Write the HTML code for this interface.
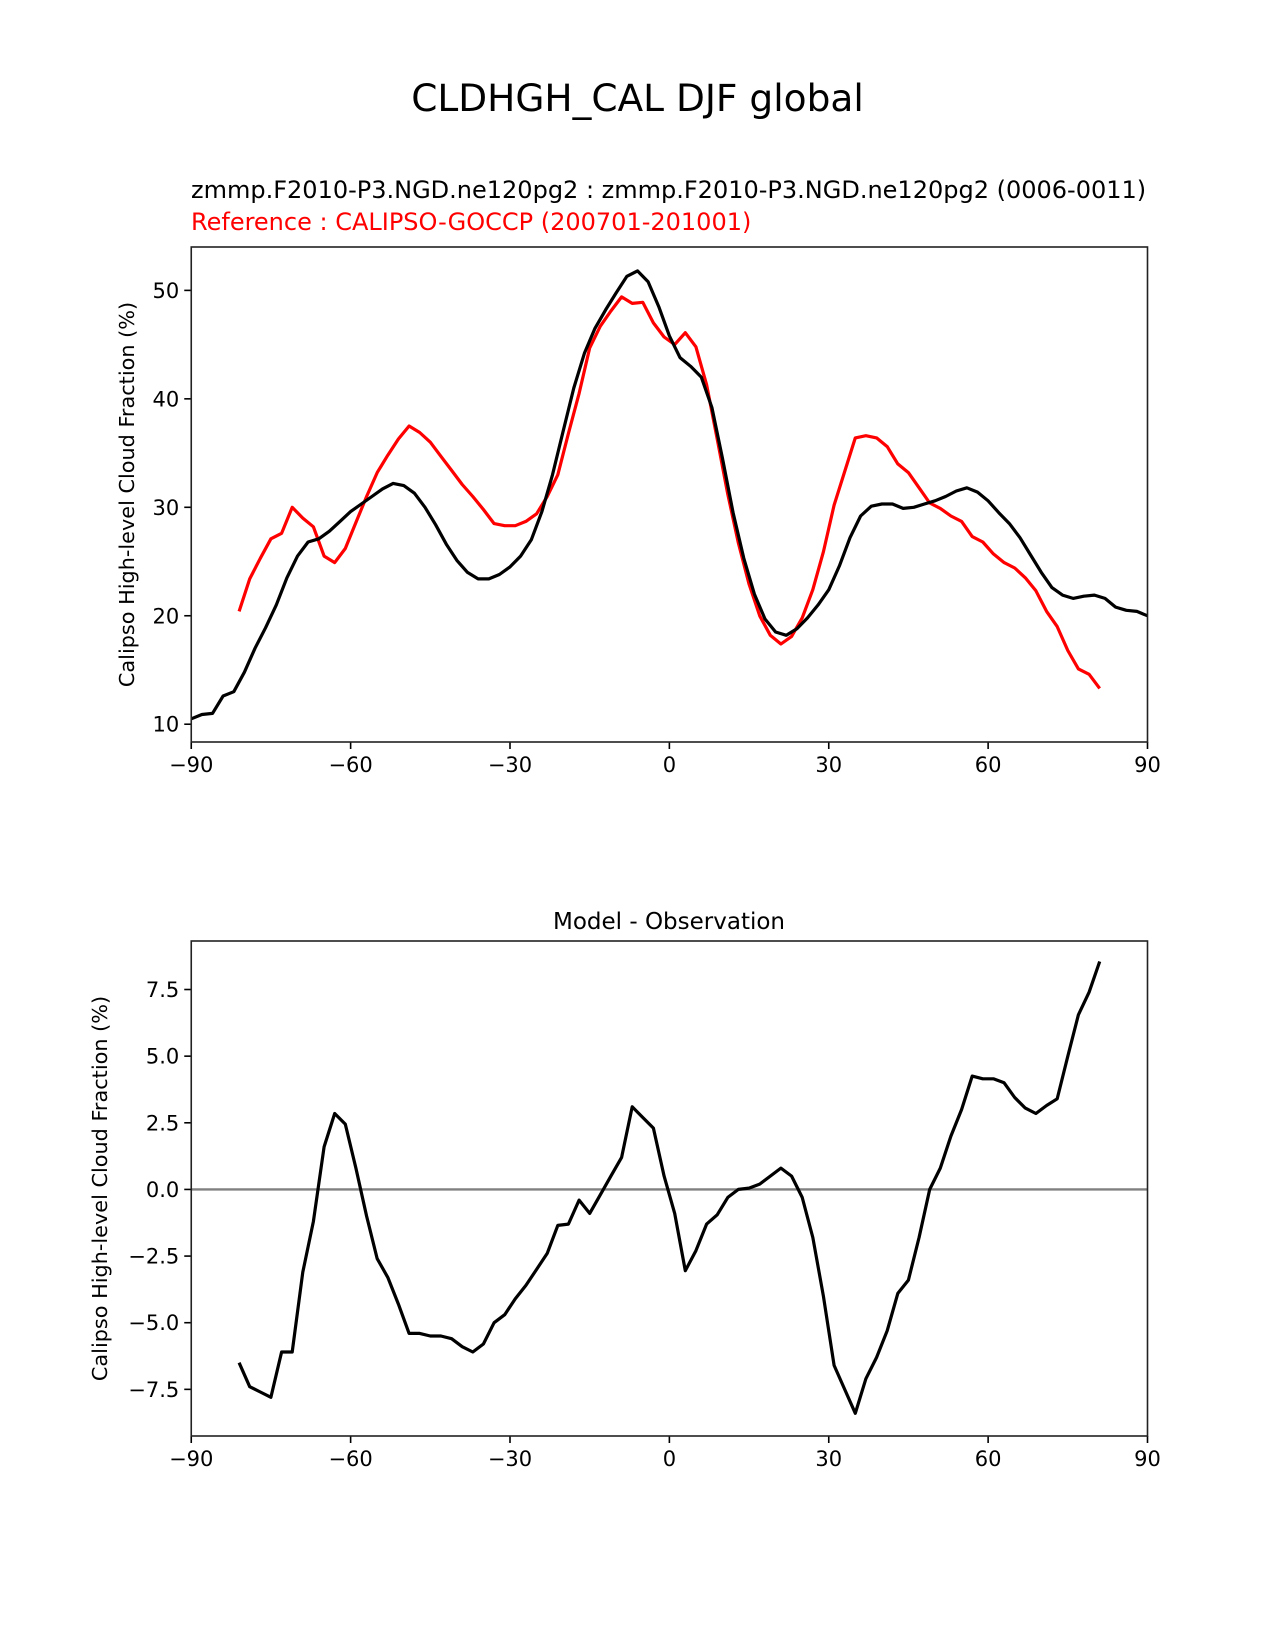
<!DOCTYPE html>
<html><head><meta charset="utf-8"><style>
body{margin:0;background:#fff}
svg{display:block;font-family:"DejaVu Sans","Liberation Sans",sans-serif}
</style></head><body>
<svg id="fig" width="1275" height="1650" viewBox="0 0 1275 1650" xmlns="http://www.w3.org/2000/svg">
<text x="637.5" y="111" font-size="37.5" text-anchor="middle">CLDHGH_CAL DJF global</text>
<text x="191" y="198" font-size="24">zmmp.F2010-P3.NGD.ne120pg2 : zmmp.F2010-P3.NGD.ne120pg2 (0006-0011)</text>
<text x="191" y="230" font-size="24" fill="#ff0000">Reference : CALIPSO-GOCCP (200701-201001)</text>
<text x="669" y="929" font-size="23" text-anchor="middle">Model - Observation</text>
<g id="top"></g>
<g id="bot"></g>
</svg>
<script>
const obsLats = [-81,-79,-77,-75,-73,-71,-69,-67,-65,-63,-61,-59,-57,-55,-53,-51,-49,-47,-45,-43,-41,-39,-37,-35,-33,-31,-29,-27,-25,-23,-21,-19,-17,-15,-13,-11,-9,-7,-5,-3,-1,1,3,5,7,9,11,13,15,17,19,21,23,25,27,29,31,33,35,37,39,41,43,45,47,49,51,53,55,57,59,61,63,65,67,69,71,73,75,77,79,81];
const obsValues = [20.4,23.4,25.3,27.1,27.6,30.0,29.0,28.2,25.5,24.9,26.2,28.6,31.0,33.2,34.8,36.3,37.5,36.9,36.0,34.7,33.4,32.1,31.0,29.8,28.5,28.3,28.3,28.7,29.4,31.0,33.0,36.8,40.5,44.7,46.7,48.1,49.4,48.8,48.9,47.0,45.7,45.0,46.1,44.8,41.3,36.3,31.2,26.7,22.9,20.0,18.2,17.4,18.1,19.8,22.4,25.9,30.2,33.3,36.4,36.6,36.4,35.6,34.0,33.2,31.8,30.4,29.9,29.2,28.7,27.3,26.8,25.7,24.9,24.4,23.5,22.3,20.4,19.0,16.8,15.1,14.6,13.3];
const modelLats = [-90,-88,-86,-84,-82,-80,-78,-76,-74,-72,-70,-68,-66,-64,-62,-60,-58,-56,-54,-52,-50,-48,-46,-44,-42,-40,-38,-36,-34,-32,-30,-28,-26,-24,-22,-20,-18,-16,-14,-12,-10,-8,-6,-4,-2,0,2,4,6,8,10,12,14,16,18,20,22,24,26,28,30,32,34,36,38,40,42,44,46,48,50,52,54,56,58,60,62,64,66,68,70,72,74,76,78,80,82,84,86,88,90];
const modelValues = [10.5,10.9,11.0,12.6,13.0,14.8,17.0,18.9,21.0,23.5,25.5,26.8,27.1,27.8,28.7,29.6,30.3,31.0,31.7,32.2,32.0,31.3,30.0,28.4,26.6,25.1,24.0,23.4,23.4,23.8,24.5,25.5,27.0,29.6,33.0,37.0,41.0,44.2,46.5,48.2,49.8,51.3,51.8,50.8,48.5,45.8,43.8,43.0,42.0,39.2,34.5,29.5,25.3,22.0,19.7,18.5,18.2,18.8,19.8,21.0,22.4,24.6,27.2,29.2,30.1,30.3,30.3,29.9,30.0,30.3,30.6,31.0,31.5,31.8,31.4,30.6,29.5,28.5,27.2,25.6,24.0,22.6,21.9,21.6,21.8,21.9,21.6,20.8,20.5,20.4,20.0];
const diffValues = [-6.5,-7.4,-7.6,-7.8,-6.1,-6.1,-3.1,-1.2,1.6,2.85,2.45,0.8,-1.0,-2.6,-3.3,-4.3,-5.4,-5.4,-5.5,-5.5,-5.6,-5.9,-6.1,-5.8,-5.0,-4.7,-4.1,-3.6,-3.0,-2.4,-1.35,-1.3,-0.4,-0.9,-0.2,0.5,1.2,3.1,2.7,2.3,0.5,-0.9,-3.05,-2.3,-1.3,-0.95,-0.3,0.0,0.05,0.2,0.5,0.8,0.5,-0.3,-1.8,-4.0,-6.6,-7.5,-8.4,-7.1,-6.3,-5.3,-3.9,-3.4,-1.8,0.0,0.8,2.0,3.0,4.25,4.15,4.15,4.0,3.45,3.05,2.85,3.15,3.4,5.0,6.55,7.4,8.55];
const xTicks = [-90,-60,-30,0,30,60,90];
const topTicks = [10,20,30,40,50];
const botTicks = [-7.5,-5.0,-2.5,0.0,2.5,5.0,7.5];

const NS='http://www.w3.org/2000/svg';
function mk(parent,tag,attrs){const e=document.createElementNS(NS,tag);for(const k in attrs)e.setAttribute(k,attrs[k]);parent.appendChild(e);return e;}
const L=191.25,R=1147.5;
function xs(v){return L+(v+90)/180*(R-L);}
function panel(g,top,bottom,ymin,ymax,yticks,fmt){
  const ys=v=>bottom-(v-ymin)/(ymax-ymin)*(bottom-top);
  xTicks.forEach(t=>{
    const l=mk(g,'line',{x1:xs(t),x2:xs(t),y1:bottom,y2:bottom+7,stroke:'#000','stroke-width':1.6});
    
    
    const tx=mk(g,'text',{x:xs(t),y:bottom+30,'font-size':21,'text-anchor':'middle'});
    tx.textContent=(t<0?'\u2212'+(-t):t);
    
    
  });
  yticks.forEach(t=>{
    const l=mk(g,'line',{x1:L-7,x2:L,y1:ys(t),y2:ys(t),stroke:'#000','stroke-width':1.6});
    
    
    const tx=mk(g,'text',{x:L-12,y:ys(t)+7.5,'font-size':21,'text-anchor':'end'});
    tx.textContent=fmt(t);
    
    
  });
  return ys;
}
function line(g,xa,ya,ys,color,name){
  const d=xa.map((x,i)=>(i?'L':'M')+xs(x).toFixed(1)+','+ys(ya[i]).toFixed(1)).join('');
  const p=mk(g,'path',{d:d,fill:'none',stroke:color,'stroke-width':3.2,'stroke-linejoin':'round'});
  
  
}
function frame(g,top,bottom){
  const r=mk(g,'rect',{x:L,y:top,width:R-L,height:bottom-top,fill:'none',stroke:'#222','stroke-width':1.6});
  
  
}
function ylabel(g,top,bottom,x){
  const cy=(top+bottom)/2;
  const t=mk(g,'text',{x:x,y:cy,'font-size':20.8,'text-anchor':'middle',transform:`rotate(-90 ${x} ${cy})`});
  t.textContent='Calipso High-level Cloud Fraction (%)';
  
  
}
const gt=document.getElementById('top');
const ysT=panel(gt,247,742,8.36,54.0,topTicks,t=>String(t));
line(gt,obsLats,obsValues,ysT,'#ff0000','observation-line');
line(gt,modelLats,modelValues,ysT,'#000','model-line');
frame(gt,247,742);
ylabel(gt,247,742,134);
const gb=document.getElementById('bot');
const ysB=panel(gb,941,1436,-9.25,9.32,botTicks,t=>(t<0?'\u2212':'')+Math.abs(t).toFixed(1));
const z=mk(gb,'line',{x1:L,x2:R,y1:ysB(0),y2:ysB(0),stroke:'#808080','stroke-width':2.4});


line(gb,obsLats,diffValues,ysB,'#000','difference-line');
frame(gb,941,1436);
ylabel(gb,941,1436,107);
</script>
</body></html>
